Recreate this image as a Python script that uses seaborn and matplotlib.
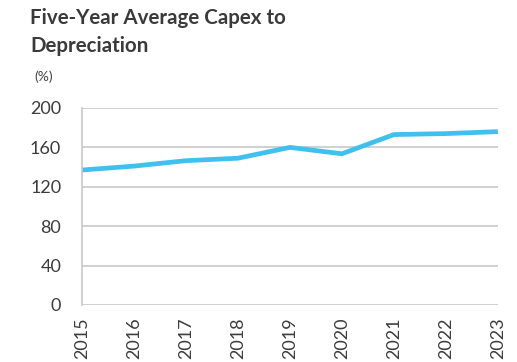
import matplotlib
matplotlib.use("Agg")
import matplotlib.pyplot as plt
import seaborn as sns
import pandas as pd

# chart data
years = [2015, 2016, 2017, 2018, 2019, 2020, 2021, 2022, 2023]
capex_ratio = [137, 141, 146.5, 149, 160, 153.5, 173, 174, 176]
y_ticks = [0, 40, 80, 120, 160, 200]

df = pd.DataFrame({"year": years, "ratio": capex_ratio})

sns.set_style("white")
plt.rcParams["font.family"] = ["Lato", "DejaVu Sans"]

fig = plt.figure(figsize=(5.17, 3.62), dpi=100)
ax = fig.add_axes([0.1586, 0.1575, 0.963 - 0.1586, 0.7017 - 0.1575])

sns.lineplot(data=df, x="year", y="ratio", ax=ax, color="#3ec1ee", linewidth=3.4,
             solid_capstyle="butt", solid_joinstyle="miter")

ax.set_xlim(years[0], years[-1])
ax.set_ylim(0, 200)
ax.set_xticks(years)
ax.set_xticklabels([str(y) for y in years], rotation=90, va="top", ha="center")
ax.set_yticks(y_ticks)
ax.set_yticklabels([str(v) for v in y_ticks])
ax.tick_params(axis="x", length=0, pad=9, labelsize=13, labelcolor="#3c3c3c")
ax.tick_params(axis="y", length=0, pad=15, labelsize=13, labelcolor="#3c3c3c")
ax.yaxis.grid(True, color="#c8c8c8", linewidth=1.2)
ax.set_axisbelow(True)
for s in ["top", "right", "bottom"]:
    ax.spines[s].set_visible(False)
ax.spines["left"].set_color("#c8c8c8")
ax.spines["left"].set_linewidth(1.2)
ax.set_xlabel("")
ax.set_ylabel("")

fig.text(0.058, 0.978, "Five-Year Average Capex to\nDepreciation", ha="left", va="top",
         fontsize=14.8, fontweight="bold", color="#3a3a3a", linespacing=1.5)
fig.text(0.066, 0.772, "(%)", ha="left", va="bottom", fontsize=10, color="#444444")

fig.savefig("out.png", dpi=100)
